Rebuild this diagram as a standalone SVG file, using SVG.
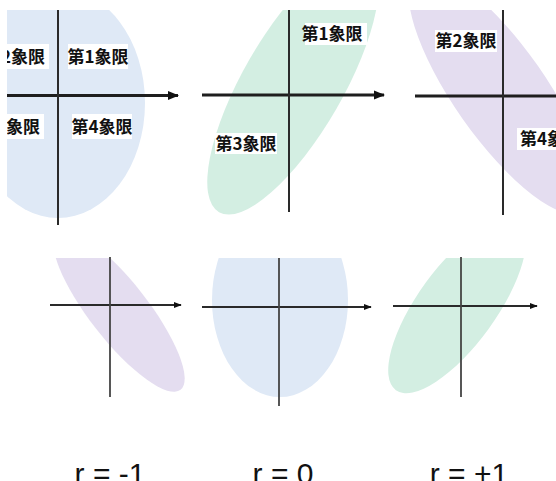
<svg xmlns="http://www.w3.org/2000/svg" width="556" height="481" viewBox="0 0 556 481">
  <style>
    .blue{fill:#dfe9f6}
    .green{fill:#d3eee2}
    .purple{fill:#e4ddf0}
    .ax{stroke:#1e1e1e;stroke-width:2.8;fill:none}
    .axv{stroke:#2a2a2a;stroke-width:2;fill:none}
    .bx{stroke:#2a2a2a;stroke-width:2;fill:none}
    .bxv{stroke:#444;stroke-width:1.8;fill:none}
    .lblbox{fill:#ffffff}
    .lbl{font-family:"Noto Sans CJK JP","Noto Sans CJK SC",sans-serif;font-weight:bold;font-size:17px;fill:#111}
    .r{font-family:"Liberation Sans",Arial,sans-serif;font-size:30px;fill:#111;text-anchor:middle}
  </style>
  <defs>
    <marker id="arr" viewBox="0 0 10 10" refX="9" refY="5" markerWidth="4" markerHeight="4" orient="auto" markerUnits="strokeWidth">
      <path d="M0,1 L10,5 L0,9 Z" fill="#111"/>
    </marker>
    <clipPath id="topclip"><rect x="7" y="10" width="549" height="230"/></clipPath>
    <clipPath id="botclip"><rect x="0" y="258" width="556" height="160"/></clipPath>
  </defs>
  <rect width="556" height="481" fill="#fff"/>

  <g id="panel-top-left" clip-path="url(#topclip)">
    <ellipse class="blue" cx="58" cy="103" rx="87" ry="115"/>
    <rect class="lblbox" x="68" y="44" width="60" height="25"/>
    <text class="lbl" x="98" y="63" text-anchor="middle">第1象限</text>
    <rect class="lblbox" x="72" y="114" width="60" height="25"/>
    <text class="lbl" x="102" y="133" text-anchor="middle">第4象限</text>
    <rect class="lblbox" x="0" y="44" width="49" height="25"/>
    <text class="lbl" x="45" y="63" text-anchor="end">第2象限</text>
    <rect class="lblbox" x="0" y="114" width="44" height="25"/>
    <text class="lbl" x="40" y="133" text-anchor="end">第3象限</text>
  </g>

  <g id="panel-top-middle" clip-path="url(#topclip)">
    <ellipse class="green" cx="0" cy="0" rx="148" ry="50" transform="translate(293,84) rotate(-60)"/>
    <rect class="lblbox" x="305" y="23" width="62" height="22"/>
    <text class="lbl" x="332" y="40" text-anchor="middle">第1象限</text>
    <rect class="lblbox" x="215" y="133" width="62" height="21"/>
    <text class="lbl" x="246" y="150" text-anchor="middle">第3象限</text>
  </g>

  <g id="panel-top-right" clip-path="url(#topclip)">
    <ellipse class="purple" cx="0" cy="0" rx="145" ry="46" transform="translate(500,92) rotate(55)"/>
    <rect class="lblbox" x="435" y="30" width="62" height="22"/>
    <text class="lbl" x="466" y="47" text-anchor="middle">第2象限</text>
    <rect class="lblbox" x="517" y="128" width="45" height="22"/>
    <text class="lbl" x="520" y="145">第4象限</text>
  </g>

  <g id="panel-bottom-left" clip-path="url(#botclip)">
    <ellipse class="purple" cx="0" cy="0" rx="100" ry="29" transform="translate(119,311) rotate(52)"/>
  </g>

  <g id="panel-bottom-middle" clip-path="url(#botclip)">
    <ellipse class="blue" cx="280" cy="300" rx="68" ry="97"/>
  </g>

  <g id="panel-bottom-right" clip-path="url(#botclip)">
    <ellipse class="green" cx="0" cy="0" rx="104" ry="39" transform="translate(457,306) rotate(-54)"/>
  </g>

  <g id="axes">
    <line class="ax" x1="7" y1="95.5" x2="178" y2="95.5" marker-end="url(#arr)"/>
    <line class="axv" x1="58" y1="10" x2="58" y2="225"/>
    <line class="ax" x1="202" y1="95" x2="384" y2="95" marker-end="url(#arr)"/>
    <line class="axv" x1="289" y1="10" x2="289" y2="212"/>
    <line class="ax" x1="415" y1="96" x2="556" y2="96"/>
    <line class="axv" x1="503" y1="10" x2="503" y2="215"/>

    <line class="bx" x1="50" y1="305" x2="181" y2="305" marker-end="url(#arr)"/>
    <line class="bxv" x1="110" y1="257" x2="110" y2="397"/>
    <line class="bx" x1="202" y1="307" x2="371" y2="307" marker-end="url(#arr)"/>
    <line class="bxv" x1="279" y1="258" x2="279" y2="406"/>
    <line class="bx" x1="393" y1="306" x2="537" y2="306" marker-end="url(#arr)"/>
    <line class="bxv" x1="461" y1="257" x2="461" y2="397"/>
  </g>

  <g id="captions">
    <text class="r" x="110" y="484">r = -1</text>
    <text class="r" x="283" y="484">r = 0</text>
    <text class="r" x="469" y="484">r = +1</text>
  </g>
</svg>
